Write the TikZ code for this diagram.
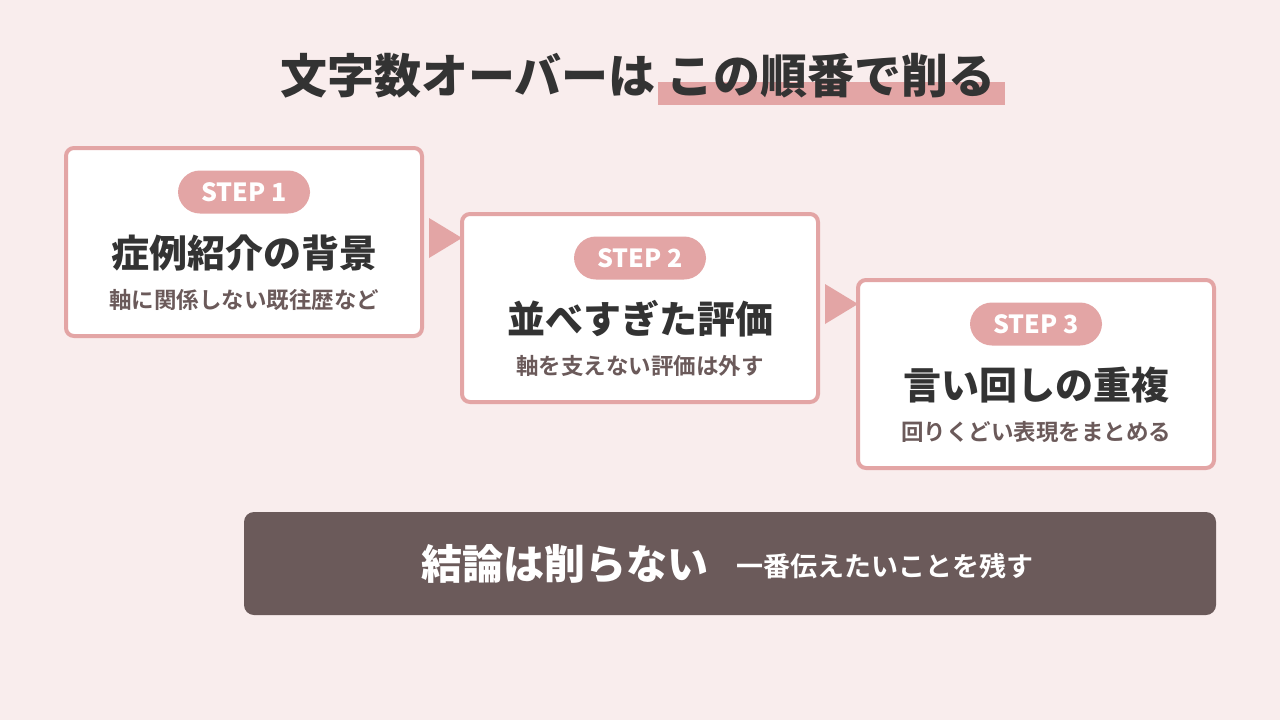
\documentclass[tikz,border=0pt]{standalone}
\usepackage{fontspec}
\setmainfont{Noto Sans CJK JP}[BoldFont={Noto Sans CJK JP Bold}]
\newfontfamily\heavy{Noto Sans CJK JP Black}
\begin{document}
\begin{tikzpicture}[x=1pt,y=-1pt,
  box/.style={draw=pinkb,line width=4pt,fill=white,rounded corners=8pt},
  pill/.style={fill=pinkb,rounded corners=22pt,text=white,font=\heavy\fontsize{25}{25}\selectfont,minimum width=132pt,minimum height=43pt,inner sep=0pt},
  head/.style={text=darkt,font=\heavy\fontsize{38}{38}\selectfont},
  sub/.style={text=subt,font=\bfseries\fontsize{22.5}{22.5}\selectfont},
  tri/.style={fill=pinkb,draw=none}]
\definecolor{bg}{HTML}{F9EDED}
\definecolor{pinkb}{HTML}{E3A5A5}
\definecolor{darkt}{HTML}{333333}
\definecolor{subt}{HTML}{6B5A5A}
\definecolor{bar}{HTML}{6B5A5A}
\fill[bg] (0,0) rectangle (1280,720);
\useasboundingbox (0,0) rectangle (1280,720);
\fill[pinkb] (658,82) rectangle (1005,105);
\node[text=darkt,font=\heavy\fontsize{47}{47}\selectfont] (title) at (638,76) {文字数オーバーは この順番で削る};
% boxes
\draw[box] (66,148) rectangle (422,336);
\draw[box] (462,214) rectangle (818,402);
\draw[box] (858,280) rectangle (1214,468);
\node[pill] (p1) at (244,192) {STEP 1};
\node[head] (h1) at (244,253) {症例紹介の背景};
\node[sub] (s1) at (244,300) {軸に関係しない既往歴など};
\node[pill] (p2) at (640,258) {STEP 2};
\node[head] (h2) at (640,319) {並べすぎた評価};
\node[sub] (s2) at (640,366) {軸を支えない評価は外す};
\node[pill] (p3) at (1036,324) {STEP 3};
\node[head] (h3) at (1036,385) {言い回しの重複};
\node[sub] (s3) at (1036,432) {回りくどい表現をまとめる};
\fill[tri] (429,218) -- (462,238) -- (429,258) -- cycle;
\fill[tri] (825,284) -- (858,304) -- (825,324) -- cycle;
% bar
\fill[bar,rounded corners=10pt] (244,512) rectangle (1216,615);
\node[text=white,font=\heavy\fontsize{41}{41}\selectfont] (b1) at (565,564) {結論は削らない};
\node[text=white,font=\bfseries\fontsize{27}{27}\selectfont] (b2) at (885,566) {一番伝えたいことを残す};
\end{tikzpicture}
\end{document}
